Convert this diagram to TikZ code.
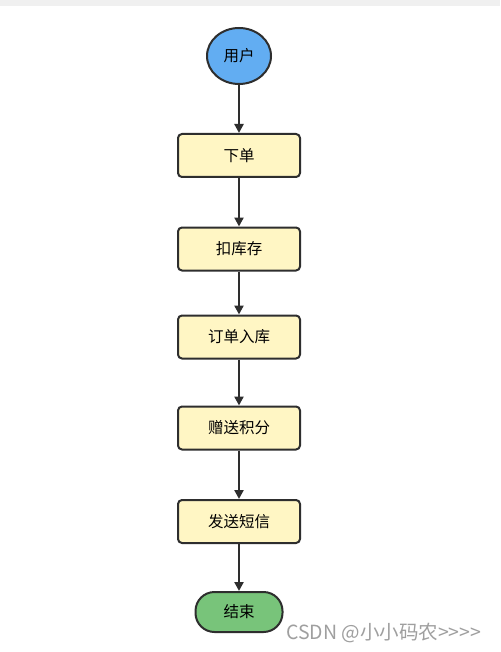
\documentclass[tikz,border=0pt]{standalone}
\usepackage{fontspec}
\setmainfont{Noto Sans CJK SC}
\newfontfamily\wmfont{Noto Sans CJK SC}[Ligatures=NoCommon]
\usetikzlibrary{shapes.geometric,arrows.meta}
\definecolor{boxfill}{HTML}{FFF6C4}
\definecolor{startfill}{HTML}{62ADF2}
\definecolor{endfill}{HTML}{78C47A}
\definecolor{edge}{HTML}{2E2E2E}
\tikzset{
  stepbox/.style={draw=edge, line width=2pt, fill=boxfill, rounded corners=4pt, minimum width=122pt, minimum height=43pt, font=\fontsize{15.5}{17}\selectfont, inner sep=0pt},
  startnode/.style={ellipse, draw=edge, line width=2pt, fill=startfill, minimum width=64pt, minimum height=56pt, font=\fontsize{15.5}{17}\selectfont, inner sep=0pt},
  endnode/.style={draw=edge, line width=2pt, fill=endfill, rounded corners=19pt, minimum width=87pt, minimum height=40pt, font=\fontsize{15.5}{17}\selectfont, inner sep=0pt},
  flow/.style={draw=edge, line width=2.5pt, -{Triangle[length=9pt,width=9pt]}}
}
\begin{document}
\begin{tikzpicture}[x=1pt,y=-1pt]
\useasboundingbox (0,0) rectangle (500,652);
\fill[white] (0,0) rectangle (500,652);
\fill[gray!12] (0,0) rectangle (500,6);
\node[startnode] (u) at (239,56) {用户};
\node[stepbox] (a) at (239,155.5) {下单};
\node[stepbox] (b) at (239,249) {扣库存};
\node[stepbox] (c) at (239,337) {订单入库};
\node[stepbox] (d) at (239,428) {赠送积分};
\node[stepbox] (e) at (239,521.5) {发送短信};
\node[endnode] (f) at (239,612) {结束};
\node[anchor=west, text=gray!75, font=\wmfont\fontsize{19.5}{21}\selectfont, inner sep=0pt] (w) at (286,633) {CSDN @小小码农{>}{>}{>}{>}};
\draw[flow] (u) -- (a);
\draw[flow] (a) -- (b);
\draw[flow] (b) -- (c);
\draw[flow] (c) -- (d);
\draw[flow] (d) -- (e);
\draw[flow] (e) -- (f);
\end{tikzpicture}
\end{document}
